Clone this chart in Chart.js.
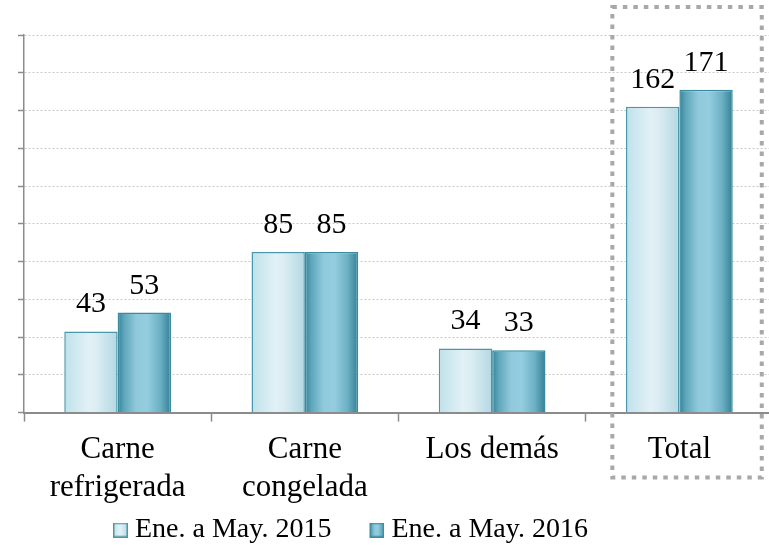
<!DOCTYPE html>
<html>
<head>
<meta charset="utf-8">
<script src="https://cdn.jsdelivr.net/npm/chart.js@4.4.1/dist/chart.umd.min.js"></script>
<style>
html,body{margin:0;padding:0;overflow:hidden;background:#fff}
#wrap{width:780px;height:545px;position:relative}
</style>
</head>
<body>
<div id="wrap"><canvas id="c"></canvas></div>
<script>
// ---- data ----
const categories = [["Carne", "refrigerada"], ["Carne", "congelada"], "Los demás", "Total"];
const seriesNames = ["Ene. a May. 2015", "Ene. a May. 2016"];
const values2015 = [43, 85, 34, 162];
const values2016 = [53, 85, 33, 171];
const yMin = 0;
const yMax = 200;
const yStep = 20;

// ---- styling ----
const FONT = '"Liberation Serif", "Times New Roman", serif';
const CAT_PCT = 0.57;
const lightStops = [[0, '#bfe1ea'], [0.45, '#e1f1f6'], [0.6, '#dcedf3'], [1, '#b3d8e3']];
const darkStops = [[0, '#358399'], [0.12, '#5ea6ba'], [0.35, '#90c9db'], [0.55, '#95cde0'], [0.8, '#6cb0c4'], [1, '#337f95']];
const stopSets = [lightStops, darkStops];
const borderCols = ['#4a97ab', '#3a8aa0'];

function barGradient(ctx) {
  const chart = ctx.chart;
  const xs = chart.scales.x;
  const stops = stopSets[ctx.datasetIndex] || lightStops;
  if (!xs || !chart.chartArea || ctx.dataIndex === undefined) return stops[Math.floor(stops.length / 2)][1];
  const center = xs.getPixelForValue(ctx.dataIndex);
  const catW = xs.width / categories.length;
  const groupW = catW * CAT_PCT;
  const barW = groupW / 2;
  const left = center - groupW / 2 + ctx.datasetIndex * barW;
  const g = chart.ctx.createLinearGradient(left, 0, left + barW, 0);
  stops.forEach(s => g.addColorStop(s[0], s[1]));
  return g;
}

function makeIcon(i) {
  const c = document.createElement('canvas');
  c.width = 54; c.height = 15;
  const x = c.getContext('2d');
  const g = x.createLinearGradient(39, 0, 54, 0);
  stopSets[i].forEach(s => g.addColorStop(s[0], s[1]));
  x.fillStyle = g;
  x.fillRect(39.75, 0.75, 13.5, 13.5);
  x.strokeStyle = borderCols[i];
  x.lineWidth = 1.5;
  x.strokeRect(39.75, 0.75, 13.5, 13.5);
  return c;
}
const legendIcons = [makeIcon(0), makeIcon(1)];

const valueLabels = {
  id: 'valueLabels',
  afterDatasetsDraw(chart) {
    const ctx = chart.ctx;
    ctx.save();
    ctx.font = '30px ' + FONT;
    ctx.fillStyle = '#000';
    ctx.textAlign = 'center';
    ctx.textBaseline = 'alphabetic';
    chart.data.datasets.forEach((ds, di) => {
      chart.getDatasetMeta(di).data.forEach((el, i) => {
        ctx.fillText(String(ds.data[i]), el.x, el.y - 19);
      });
    });
    ctx.restore();
  }
};

const totalBox = {
  id: 'totalBox',
  afterDraw(chart) {
    const xs = chart.scales.x, area = chart.chartArea, ctx = chart.ctx;
    const cx = xs.getPixelForValue(categories.length - 1);
    const cw = xs.width / categories.length;
    const left = cx - 0.358 * cw, right = cx + 0.44 * cw;
    const top = area.top - 28, bottom = area.bottom + 65;
    ctx.save();
    ctx.strokeStyle = '#a8a8a8';
    ctx.lineWidth = 4;
    ctx.setLineDash([4.5, 6]);
    ctx.strokeRect(left, top, right - left, bottom - top);
    ctx.restore();
  }
};

const legendPlace = {
  id: 'legendPlace',
  afterLayout(chart) {
    const lg = chart.legend;
    if (!lg) return;
    const w = lg.right - lg.left;
    lg.left = 75;
    lg.right = lg.left + w;
    lg.top -= 6;
    lg.bottom -= 6;
  }
};

new Chart(document.getElementById('c'), {
  type: 'bar',
  data: {
    labels: categories,
    datasets: [
      { label: seriesNames[0], data: values2015, backgroundColor: barGradient, borderColor: borderCols[0], borderWidth: 1.5 },
      { label: seriesNames[1], data: values2016, backgroundColor: barGradient, borderColor: borderCols[1], borderWidth: 1.5 }
    ]
  },
  options: {
    responsive: true,
    maintainAspectRatio: false,
    animation: false,
    layout: { padding: { left: 18, top: 35, right: 7, bottom: -15 } },
    datasets: { bar: { categoryPercentage: CAT_PCT, barPercentage: 1 } },
    scales: {
      x: {
        grid: { display: true, drawOnChartArea: false, drawTicks: true, tickLength: 9, tickColor: '#8c8c8c', tickWidth: 1.5, offset: true },
        border: { color: '#8c8c8c', width: 2 },
        ticks: { font: { family: FONT, size: 31, lineHeight: 1.2 }, color: '#000', padding: 10, maxRotation: 0, autoSkip: false }
      },
      y: {
        min: yMin, max: yMax,
        ticks: { stepSize: yStep, display: false },
        grid: { color: '#c9c9c9', lineWidth: 1, tickLength: 6, tickColor: '#8c8c8c', tickWidth: 1.5, tickBorderDash: [] },
        border: { color: '#8c8c8c', width: 1.5, dash: [2, 2] }
      }
    },
    plugins: {
      tooltip: { enabled: false },
      legend: {
        position: 'bottom',
        align: 'start',
        labels: {
          usePointStyle: true,
          pointStyleWidth: 40,
          padding: 6,
          font: { family: FONT, size: 28 },
          color: '#000',
          generateLabels(chart) {
            return chart.data.datasets.map((ds, i) => ({
              text: ds.label, pointStyle: legendIcons[i], fillStyle: 'rgba(0,0,0,0)',
              strokeStyle: 'rgba(0,0,0,0)', lineWidth: 0, hidden: false, datasetIndex: i, fontColor: '#000'
            }));
          }
        }
      }
    }
  },
  plugins: [valueLabels, totalBox, legendPlace]
});
</script>
</body>
</html>
